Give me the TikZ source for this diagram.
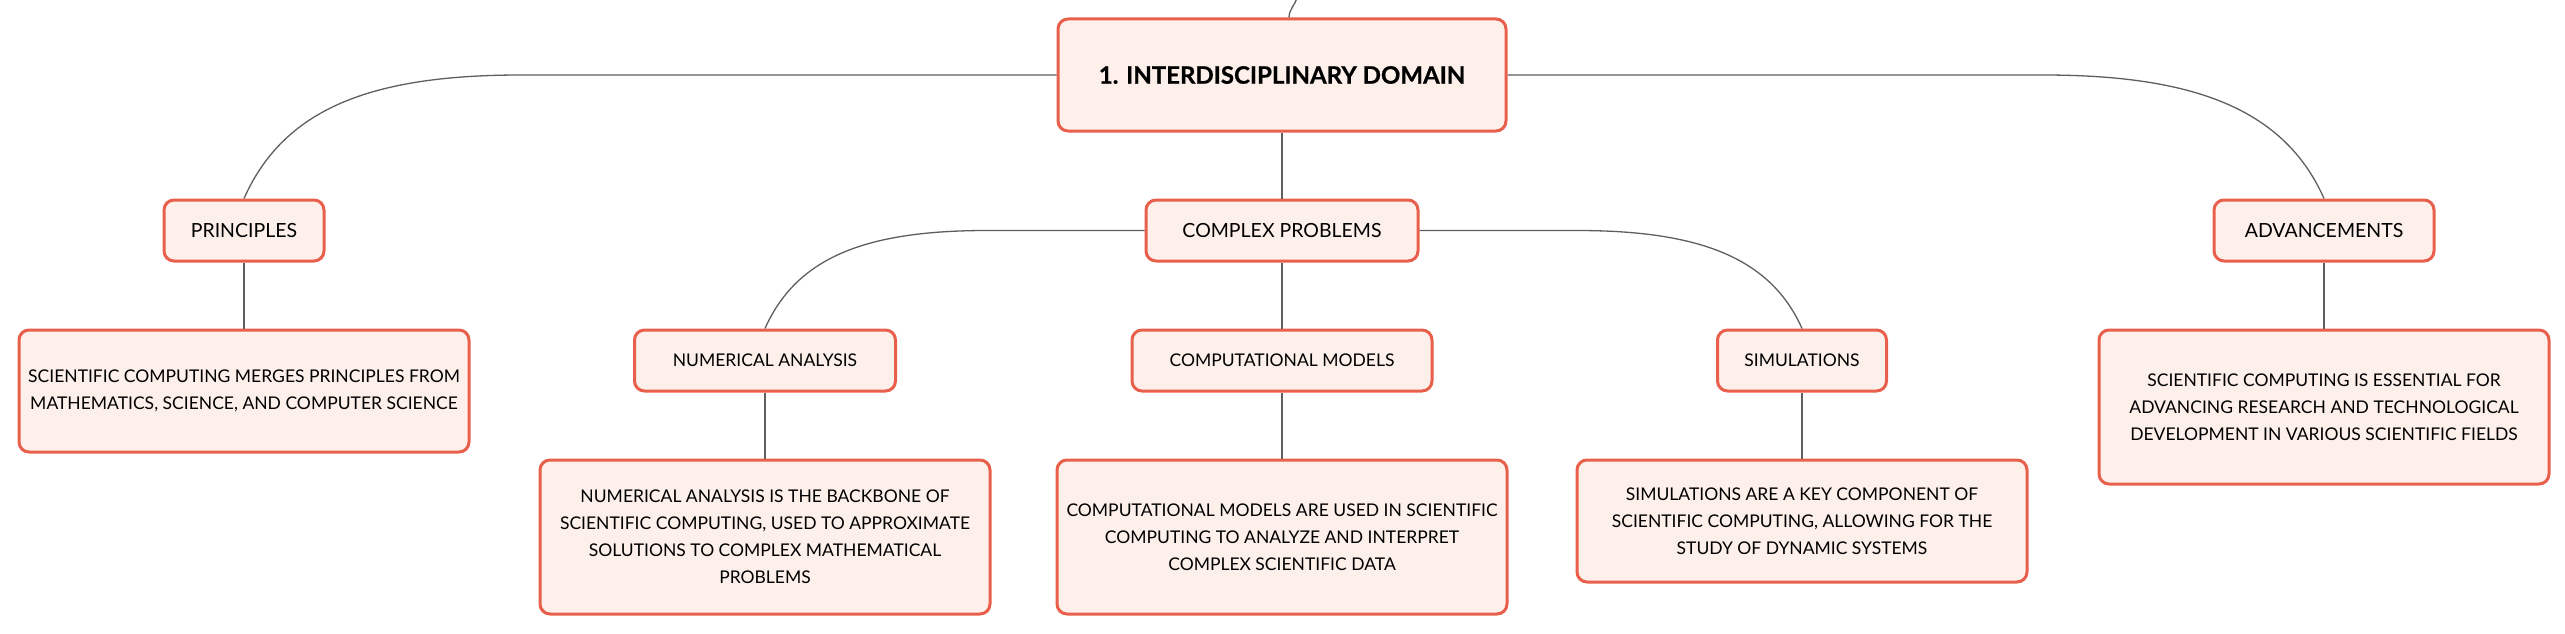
\documentclass[tikz,border=0pt]{standalone}
\usepackage{fontspec}
\setmainfont{Lato}
\newfontfamily\titlefont[BoldFeatures={FakeBold=0.7}]{Lato}
\definecolor{bord}{HTML}{E8604C}
\definecolor{boxfill}{HTML}{FDEFEA}
\definecolor{conncol}{HTML}{5F5F5F}
\begin{document}
\begin{tikzpicture}[x=1pt,y=-1pt,
  box/.style={draw=bord, fill=boxfill, line width=3pt, rounded corners=10pt, align=center, inner sep=0pt, text=black},
  titlebox/.style={box, minimum width=448pt, minimum height=112pt, font=\fontsize{24}{30}\selectfont\titlefont\bfseries},
  headbox/.style={box, minimum height=61pt, font=\fontsize{19.5}{24}\selectfont},
  subbox/.style={box, minimum height=61pt, font=\fontsize{17.5}{22}\selectfont},
  descbox/.style={box, minimum width=450pt, font=\fontsize{17.5}{27}\selectfont},
  conn/.style={draw=conncol, line width=1.3pt}
]
\useasboundingbox (0,0) rectangle (2565,634);
\fill[white] (0,0) rectangle (2565,634);

\node[titlebox] (main) at (1282,75) {1. INTERDISCIPLINARY DOMAIN};
\node[headbox, minimum width=272pt] (cp) at (1282,230.5) {COMPLEX PROBLEMS};
\node[headbox, minimum width=160pt] (pr) at (244,230.5) {PRINCIPLES};
\node[headbox, minimum width=220pt] (adv) at (2324,230.5) {ADVANCEMENTS};
\node[subbox, minimum width=261pt] (na) at (765,360.5) {NUMERICAL ANALYSIS};
\node[subbox, minimum width=300pt] (cm) at (1282,360.5) {COMPUTATIONAL MODELS};
\node[subbox, minimum width=169pt] (sim) at (1802,360.5) {SIMULATIONS};

\node[descbox, minimum height=122pt] (prd) at (244,391) {SCIENTIFIC COMPUTING MERGES PRINCIPLES FROM\\MATHEMATICS, SCIENCE, AND COMPUTER SCIENCE};
\node[descbox, minimum height=154pt] (nad) at (765,537) {NUMERICAL ANALYSIS IS THE BACKBONE OF\\SCIENTIFIC COMPUTING, USED TO APPROXIMATE\\SOLUTIONS TO COMPLEX MATHEMATICAL\\PROBLEMS};
\node[descbox, minimum height=154pt] (cmd) at (1282,537) {COMPUTATIONAL MODELS ARE USED IN SCIENTIFIC\\COMPUTING TO ANALYZE AND INTERPRET\\COMPLEX SCIENTIFIC DATA};
\node[descbox, minimum height=122pt] (simd) at (1802,521) {SIMULATIONS ARE A KEY COMPONENT OF\\SCIENTIFIC COMPUTING, ALLOWING FOR THE\\STUDY OF DYNAMIC SYSTEMS};
\node[descbox, minimum height=154pt] (advd) at (2324,407) {SCIENTIFIC COMPUTING IS ESSENTIAL FOR\\ADVANCING RESEARCH AND TECHNOLOGICAL\\DEVELOPMENT IN VARIOUS SCIENTIFIC FIELDS};

\coordinate (top) at (1297,-2);
\coordinate (lc) at (521,75);
\coordinate (rc) at (2043,75);
\coordinate (nac) at (987,230.5);
\coordinate (simc) at (1577,230.5);

\begin{scope}[on background layer/.try]
\draw[conn] ([xshift=7pt]main.north) .. controls +(0,-8) and +(-2,7) .. (top);
\draw[conn] (main.west) -- (lc) .. controls +(-150,0) and +(40,-90) .. (pr.north);
\draw[conn] (main.east) -- (rc) .. controls +(150,0) and +(-40,-90) .. (adv.north);
\draw[conn] (main.south) -- (cp.north);
\draw[conn] (cp.west) -- (nac) .. controls +(-120,0) and +(32,-72) .. (na.north);
\draw[conn] (cp.east) -- (simc) .. controls +(120,0) and +(-32,-72) .. (sim.north);
\draw[conn] (cp.south) -- (cm.north);
\draw[conn] (pr.south) -- (prd.north);
\draw[conn] (na.south) -- (nad.north);
\draw[conn] (cm.south) -- (cmd.north);
\draw[conn] (sim.south) -- (simd.north);
\draw[conn] (adv.south) -- (advd.north);
\end{scope}
\end{tikzpicture}
\end{document}
